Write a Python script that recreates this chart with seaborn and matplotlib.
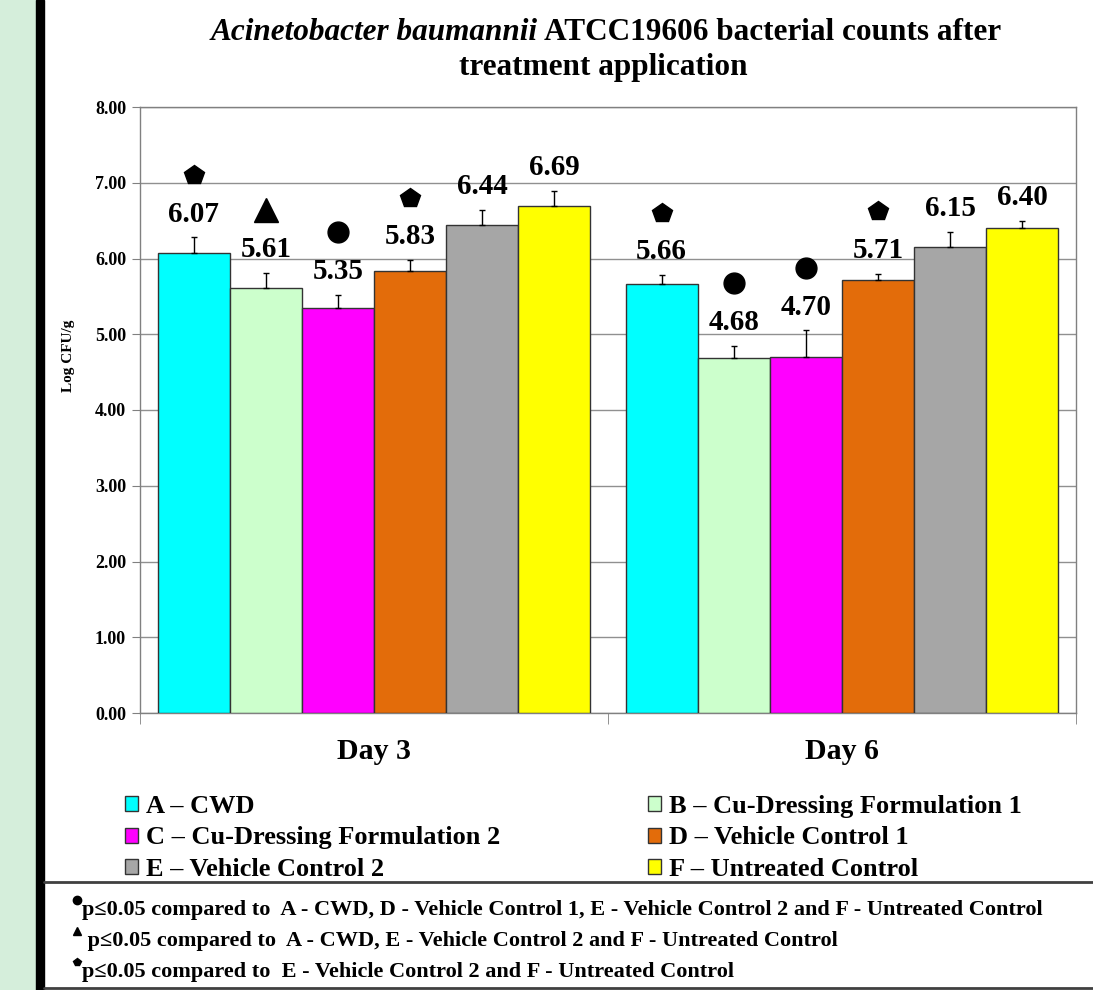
import pandas as pd
import matplotlib.pyplot as plt
import matplotlib.transforms as mtransforms
import seaborn as sns
from matplotlib.patches import Patch, Rectangle
from matplotlib.lines import Line2D

# data
days = ["Day 3", "Day 6"]
treatments = ["A \u2013 CWD", "B \u2013 Cu-Dressing Formulation 1", "C \u2013 Cu-Dressing Formulation 2",
              "D \u2013 Vehicle Control 1", "E \u2013 Vehicle Control 2", "F \u2013 Untreated Control"]
day3_vals = [6.07, 5.61, 5.35, 5.83, 6.44, 6.69]
day6_vals = [5.66, 4.68, 4.70, 5.71, 6.15, 6.40]
day3_err = [0.21, 0.20, 0.17, 0.15, 0.20, 0.20]
day6_err = [0.12, 0.17, 0.35, 0.09, 0.20, 0.10]
day3_sig = ["p", "^", "o", "p", None, None]
day6_sig = ["p", "o", "o", "p", None, None]
colors = ["#00FFFF", "#CCFFCC", "#FF00FF", "#E36C0A", "#A6A6A6", "#FFFF00"]
footnotes = [
    ("o", "p\u22640.05 compared to  A - CWD, D - Vehicle Control 1, E - Vehicle Control 2 and F - Untreated Control"),
    ("^", " p\u22640.05 compared to  A - CWD, E - Vehicle Control 2 and F - Untreated Control"),
    ("p", "p\u22640.05 compared to  E - Vehicle Control 2 and F - Untreated Control"),
]

df = pd.DataFrame({
    "day": [days[0]] * 6 + [days[1]] * 6,
    "treatment": treatments * 2,
    "value": day3_vals + day6_vals,
})
errs = [day3_err, day6_err]
sigs = [day3_sig, day6_sig]
vals = [day3_vals, day6_vals]

sns.set_style("white")
plt.rcParams["font.family"] = ["Liberation Serif", "DejaVu Serif"]
plt.rcParams["font.weight"] = "bold"
for key in ["text.color", "axes.labelcolor", "xtick.labelcolor", "ytick.labelcolor"]:
    plt.rcParams[key] = "black"

fig = plt.figure(figsize=(10.93, 9.9), dpi=100)
W, H = 1093, 990

# left green strip and black bar
fig.add_artist(Rectangle((0, 0), 36 / W, 1, transform=fig.transFigure, color="#D5EEDB", zorder=0))
fig.add_artist(Rectangle((36 / W, 0), 8 / W, 1, transform=fig.transFigure, color="black", zorder=0))

ax = fig.add_axes([140 / W, 1 - 713 / H, 936 / W, 606 / H])
sns.barplot(data=df, x="day", y="value", hue="treatment", palette=colors, width=0.925,
            saturation=1, errorbar=None, edgecolor="#333333", linewidth=1.0, legend=False,
            ax=ax, zorder=3)

ax.set_ylim(0, 8)
ax.set_xlim(-0.5, 1.5)
ax.set_yticks(range(0, 9))
ax.set_yticklabels([f"{v:.2f}" for v in range(0, 9)], fontsize=13, fontweight="bold")
ax.set_xticks([0, 1])
ax.set_xticklabels(days, fontsize=21.5, fontweight="bold")
ax.tick_params(axis="x", which="major", length=0, pad=18)
ax.set_xticks([-0.5, 0.5, 1.5], minor=True)
ax.tick_params(axis="x", which="minor", length=8, color="#808080", direction="out", bottom=True)
ax.tick_params(axis="y", length=6, color="#808080", direction="out", left=True, pad=4)
ax.yaxis.grid(True, color="#909090", linewidth=1.0, zorder=0)
ax.set_axisbelow(True)
for s in ax.spines.values():
    s.set_color("#808080")
    s.set_linewidth(1.0)
ax.set_xlabel("")
ax.set_ylabel("Log CFU/g", fontsize=11, fontweight="bold")
ax.yaxis.set_label_coords(-0.069, 0.59)

# error bars, value labels and significance markers
bar_conts = list(ax.containers)
mark_shift = mtransforms.ScaledTranslation(0, 45 / 72, fig.dpi_scale_trans)
for i, cont in enumerate(bar_conts):
    for j, bar in enumerate(cont):
        x = bar.get_x() + bar.get_width() / 2
        v = vals[j][i]
        e = errs[j][i]
        ax.errorbar(x, v, yerr=[[0], [e]], fmt="none", ecolor="black", elinewidth=1.0,
                    capsize=2.5, capthick=1.0, zorder=4)
        ax.annotate(f"{v:.2f}", (x, v + e), xytext=(0, 7), textcoords="offset points",
                    ha="center", va="bottom", fontsize=21, fontweight="bold")
        m = sigs[j][i]
        if m:
            ms = 17 if m == "^" else 15
            ax.plot([x], [v + e], marker=m, markersize=ms, color="black",
                    transform=ax.transData + mark_shift, clip_on=False, zorder=5)

# title
fig.text(538 / W, 1 - 32 / H, "Acinetobacter baumannii", ha="right", va="center",
         fontsize=22.5, fontweight="bold", fontstyle="italic")
fig.text(538 / W, 1 - 32 / H, " ATCC19606 bacterial counts after", ha="left", va="center",
         fontsize=22.5, fontweight="bold")
fig.text(603 / W, 1 - 67 / H, "treatment application", ha="center", va="center",
         fontsize=22.5, fontweight="bold")

# legend
handles = [Patch(facecolor=c, edgecolor="#333333", linewidth=1.0) for c in colors]
order = [0, 2, 4, 1, 3, 5]
fig.legend([handles[k] for k in order], [treatments[k] for k in order], ncol=2,
           loc="upper left", bbox_to_anchor=(125 / W, 1 - 795 / H), frameon=False,
           prop={"family": "Liberation Serif", "weight": "bold", "size": 19},
           handlelength=0.5, handleheight=0.5, handletextpad=0.3, labelspacing=0.32,
           columnspacing=5.6, borderpad=0, borderaxespad=0)

# footnote box
fig.add_artist(Line2D([44 / W, 1], [1 - 882 / H] * 2, transform=fig.transFigure, color="#404040", linewidth=2))
fig.add_artist(Line2D([44 / W, 1], [1 - 988 / H] * 2, transform=fig.transFigure, color="#404040", linewidth=2))
for k, (m, txt) in enumerate(footnotes):
    y = 1 - (910 + 31 * k) / H
    fig.add_artist(Line2D([77 / W], [y + 10 / H], marker=m, markersize=6, color="black",
                          transform=fig.transFigure))
    fig.text(82 / W, y, txt, ha="left", va="center", fontsize=16, fontweight="bold")

fig.savefig("out.png", dpi=100)
